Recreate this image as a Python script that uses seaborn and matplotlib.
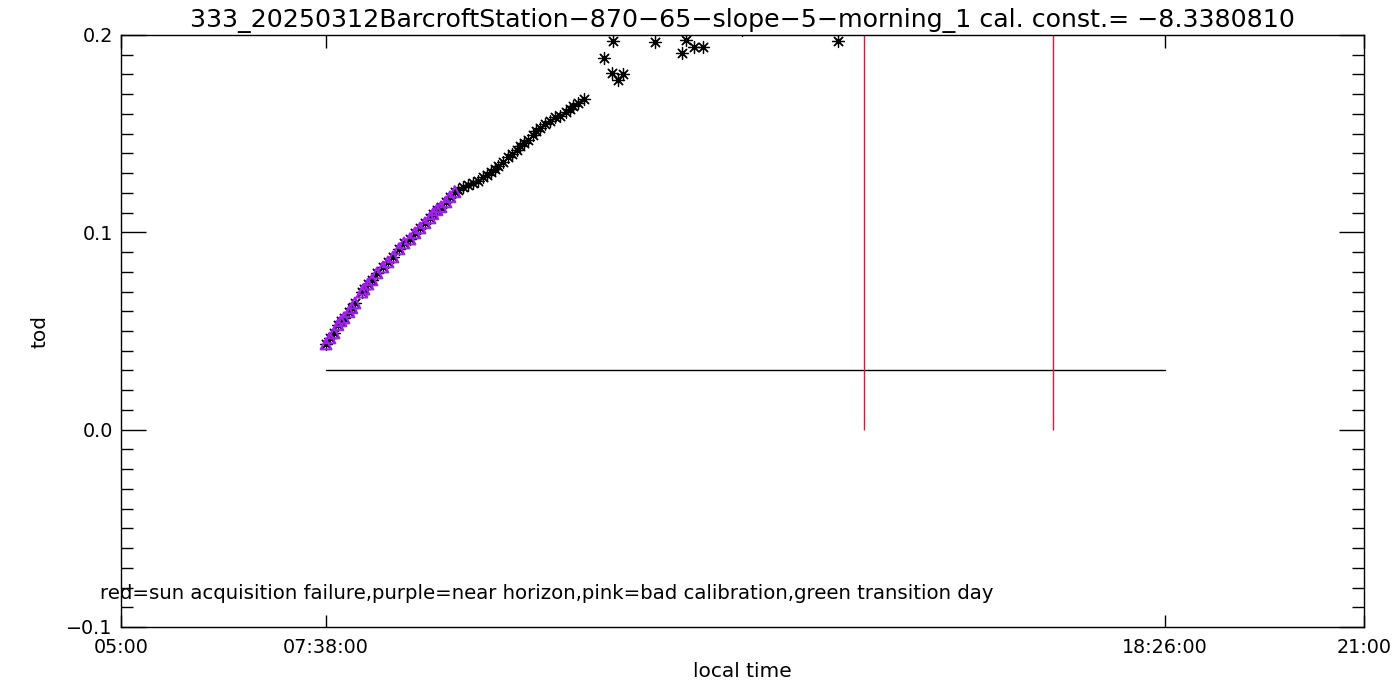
import matplotlib
matplotlib.use("Agg")
import matplotlib.pyplot as plt
from matplotlib.ticker import MultipleLocator
import numpy as np
import pandas as pd
import seaborn as sns

# ---------------- data ----------------
title_text = "333_20250312BarcroftStation\u2212870\u221265\u2212slope\u22125\u2212morning_1 cal. const.= \u22128.3380810"
legend_text = "red=sun acquisition failure,purple=near horizon,pink=bad calibration,green transition day"

# local time (decimal hours) and tod of the measurements
hours = [7.639, 7.690, 7.742, 7.793, 7.832, 7.870, 7.935, 7.973, 8.012, 8.102,
         8.128, 8.179, 8.231, 8.295, 8.372, 8.437, 8.501, 8.578, 8.643, 8.720,
         8.784, 8.849, 8.913, 8.977, 9.016, 9.067, 9.119, 9.183, 9.235, 9.299,
         9.338, 9.402, 9.467, 9.531, 9.595, 9.660, 9.711, 9.763, 9.814, 9.853,
         9.917, 9.981, 10.033, 10.097, 10.136, 10.187, 10.239, 10.303, 10.342, 10.393,
         10.458, 10.522, 10.586, 10.651, 10.728, 10.779, 10.818, 10.882, 10.960,
         11.217, 11.333, 11.320, 11.397, 11.462, 11.873, 12.221, 12.272, 12.375, 12.491,
         12.993, 14.229]
tod = [0.0434, 0.0465, 0.0490, 0.0531, 0.0551, 0.0566, 0.0597, 0.0617, 0.0642, 0.0697,
       0.0712, 0.0738, 0.0759, 0.0794, 0.0824, 0.0850, 0.0875, 0.0916, 0.0946, 0.0966,
       0.0997, 0.1022, 0.1048, 0.1073, 0.1094, 0.1114, 0.1129, 0.1154, 0.1180, 0.1205,
       0.1215, 0.1230, 0.1240, 0.1251, 0.1261, 0.1281, 0.1291, 0.1306, 0.1322, 0.1337,
       0.1357, 0.1382, 0.1397, 0.1418, 0.1438, 0.1453, 0.1468, 0.1494, 0.1514, 0.1529,
       0.1549, 0.1565, 0.1585, 0.1590, 0.1610, 0.1625, 0.1640, 0.1655, 0.1676,
       0.1884, 0.1970, 0.1808, 0.1772, 0.1803, 0.1965, 0.1909, 0.1975, 0.1940, 0.1940,
       0.2025, 0.1970]
# near-horizon flag (purple triangles)
near_horizon = [True] * 30 + [False] * (len(hours) - 30)

# reference line and sun-acquisition-failure markers
ref_line_hours = [7 + 38 / 60, 18 + 26 / 60]
ref_line_tod = [0.03, 0.03]
fail_hours = [14.563, 16.996]
fail_tod_range = [0.0, 0.2]

xtick_pos = [5.0, 7 + 38 / 60, 18 + 26 / 60, 21.0]
xtick_labels = ["05:00", "07:38:00", "18:26:00", "21:00"]
ytick_pos = [-0.1, 0.0, 0.1, 0.2]
ytick_labels = ["\u22120.1", "0.0", "0.1", "0.2"]

df = pd.DataFrame({"hour": hours, "tod": tod, "near": near_horizon})
df_ref = pd.DataFrame({"hour": ref_line_hours, "tod": ref_line_tod})

# ---------------- plot ----------------
sns.set_style("white")
plt.rcParams['font.family'] = ['DejaVu Sans']
plt.rcParams['text.color'] = 'black'
plt.rcParams['axes.labelcolor'] = 'black'
plt.rcParams['xtick.color'] = 'black'
plt.rcParams['ytick.color'] = 'black'

W, H = 1400, 700
fig = plt.figure(figsize=(14, 7), dpi=100)
L, R, T, B = 121, 1364, 35, 627
ax = fig.add_axes([L / W, 1 - B / H, (R - L) / W, (B - T) / H])

sns.lineplot(data=df_ref, x="hour", y="tod", color="black", linewidth=1.0, ax=ax)
ax.vlines(fail_hours, fail_tod_range[0], fail_tod_range[1], color="#E6143C", linewidth=1.0)

sns.scatterplot(data=df, x="hour", y="tod", marker=(8, 2, 0), color="black",
                s=75, linewidth=0.9, ax=ax, zorder=3)
sns.scatterplot(data=df[df["near"]], x="hour", y="tod", marker="^", s=60,
                facecolor="none", edgecolor="#A020F0", linewidth=1.5, ax=ax, zorder=4)

ax.set_xlim(5, 21)
ax.set_ylim(-0.1, 0.2)
ax.set_xticks(xtick_pos)
ax.set_xticklabels(xtick_labels)
ax.set_yticks(ytick_pos)
ax.set_yticklabels(ytick_labels)
ax.yaxis.set_minor_locator(MultipleLocator(0.01))

for s in ax.spines.values():
    s.set_color("black")
    s.set_linewidth(1.0)

ax.tick_params(axis="x", which="major", direction="in", length=9, width=1,
               top=True, bottom=True, labelsize=13.8, pad=8, colors="black")
ax.tick_params(axis="y", which="major", direction="in", length=18, width=1,
               left=True, right=True, labelsize=13.8, pad=6, colors="black")
ax.tick_params(axis="y", which="minor", direction="in", length=8.5, width=1,
               left=True, right=True, colors="black")

ax.set_xlabel("local time", fontsize=14.5, color="black")
ax.set_ylabel("tod", fontsize=14.5, color="black")
ax.xaxis.set_label_coords(0.5, -(662 - B) / (B - T))
ax.yaxis.set_label_coords((50 - L) / (R - L), 0.5)
ax.set_title(title_text, fontsize=18.2, pad=6, color="black")

ax.text(4.73, -0.0828, legend_text, ha="left", va="center", fontsize=14.2,
        clip_on=False, color="black")

fig.savefig("out.png", dpi=100, facecolor="white")
